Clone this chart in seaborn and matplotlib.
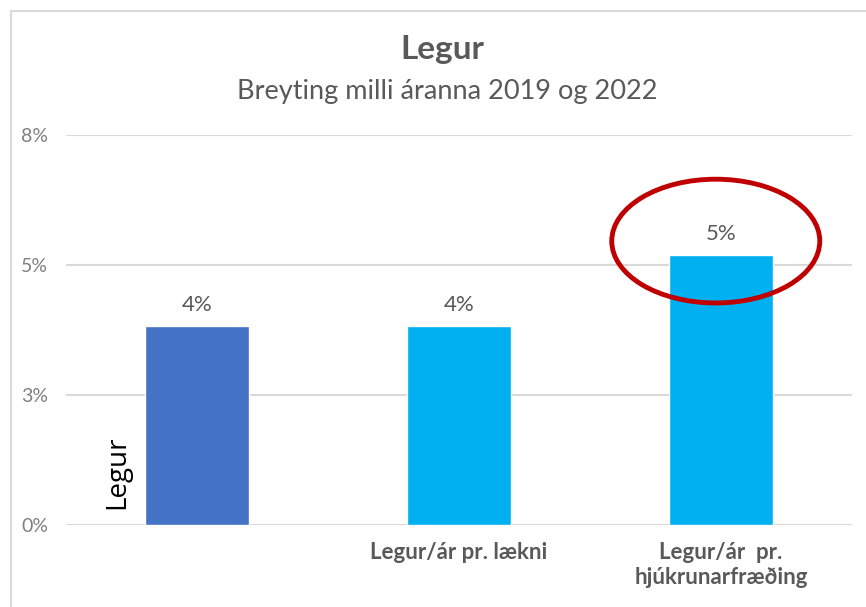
import matplotlib
matplotlib.use("Agg")
import matplotlib.pyplot as plt
import seaborn as sns
import pandas as pd
from matplotlib.patches import Ellipse, Rectangle

categories = ["Legur", "Legur/ár pr. lækni", "Legur/ár  pr.\nhjúkrunarfræðing"]
tick_names = ["", "Legur/ár pr. lækni", "Legur/ár  pr.\nhjúkrunarfræðing"]
values = [0.0383, 0.0383, 0.0519]
bar_colors = ["#4472C4", "#00B0F0", "#00B0F0"]
y_ticks = [0, 0.025, 0.05, 0.075]
y_tick_labels = ["0%", "3%", "5%", "8%"]

sns.set_theme(style="white")
plt.rcParams["font.family"] = ["Lato", "DejaVu Sans"]

df = pd.DataFrame({"cat": categories, "val": values})

fig = plt.figure(figsize=(8.66, 6.07), dpi=100)
ax = fig.add_axes([66/866, 1-525/607, (852-66)/866, (525-135)/607])

sns.barplot(data=df, x="cat", y="val", hue="cat", palette=bar_colors,
            legend=False, width=0.4, ax=ax, saturation=1)

ax.set_ylim(0, 0.075)
ax.set_yticks(y_ticks)
ax.set_yticklabels(y_tick_labels, color="#808080", fontsize=14)
ax.set_xticks(range(len(tick_names)))
ax.set_xticklabels(tick_names, color="#595959", fontsize=16, fontweight="bold",
                   linespacing=1.25)
ax.tick_params(axis="y", length=0, pad=13)
ax.tick_params(axis="x", length=0, pad=12)
ax.set_xlabel("")
ax.set_ylabel("")
for s in ax.spines.values():
    s.set_visible(False)
ax.yaxis.grid(True, color="#D9D9D9", linewidth=1.5)
ax.set_axisbelow(True)

for container in ax.containers:
    ax.bar_label(container, labels=[f"{v*100:.0f}%" for v in container.datavalues],
                 padding=8, color="#595959", fontsize=16)

ax.text(-0.305, 0.0030, "Legur", rotation=90, fontsize=20, color="black",
        ha="center", va="bottom", family=["Open Sans", "DejaVu Sans"])

ell = Ellipse((1.98, 0.0546), 0.794, 0.0238, fill=False, edgecolor="#C00000",
              linewidth=3.5, clip_on=False, zorder=5)
ax.add_patch(ell)

fig.text(442/866, 1-50/607, "Legur", ha="center", va="center", fontsize=24,
         fontweight="bold", color="#595959")
fig.text(447/866, 1-92/607, "Breyting milli áranna 2019 og 2022", ha="center",
         va="center", fontsize=19.5, color="#595959")

fig.patches.append(Rectangle((11/866, -0.1), 1.2, 1-11/607+0.1, transform=fig.transFigure,
                             fill=False, edgecolor="#D9D9D9", linewidth=1.5))

fig.savefig("out.png", dpi=100)
